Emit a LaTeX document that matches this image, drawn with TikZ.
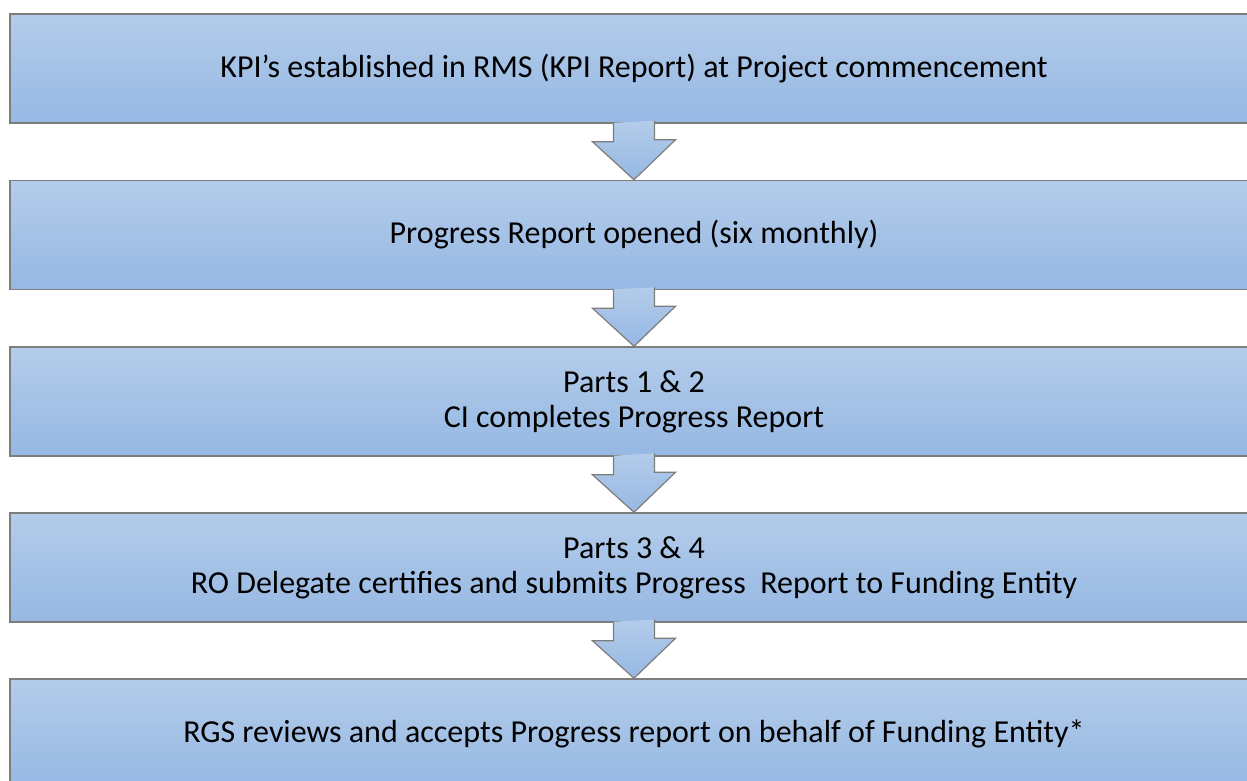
\documentclass[tikz,border=0pt]{standalone}
\usepackage{fontspec}
\setmainfont{Carlito}
\usetikzlibrary{calc}
\definecolor{boxtop}{RGB}{179,204,234}
\definecolor{boxbot}{RGB}{150,184,227}
\definecolor{edge}{RGB}{125,125,125}
\tikzset{
  box/.style={draw=edge, line width=1.5pt, top color=boxtop, bottom color=boxbot,
    minimum width=1248pt, minimum height=109pt, inner sep=0pt, align=center,
    font=\fontsize{32}{35}\selectfont, text=black},
  arr/.style={draw=edge, line width=1.2pt, top color=boxtop, bottom color=boxbot, line join=miter}
}
\begin{document}
\begin{tikzpicture}[x=1pt,y=-1pt]
\useasboundingbox (0,0) rectangle (1247,780);
\fill[white] (0,0) rectangle (1247,780);
\node[box] (b1) at (634,68.5) {KPI{\char"27}s established in RMS (KPI Report) at Project commencement};
\node[box] (b2) at (634,235) {Progress Report opened (six monthly)};
\node[box] (b3) at (634,401.5) {Parts 1 \& 2\\CI completes Progress Report};
\node[box] (b4) at (634,567.5) {Parts 3 \& 4\\RO Delegate certifies and submits Progress\ \ Report to Funding Entity};
\node[box] (b5) at (634,733.5) {RGS reviews and accepts Progress report on behalf of Funding Entity*};
\foreach \a/\b in {b1/b2,b2/b3,b3/b4,b4/b5}{
  \draw[arr] ($(\a.south)+(-20.5,-1)$) -- ++(0,19) -- ++(-21,0) -- (\b.north) -- ++(41.5,-40) -- ++(-21,0) -- ++(0,-19);
}
\end{tikzpicture}
\end{document}
